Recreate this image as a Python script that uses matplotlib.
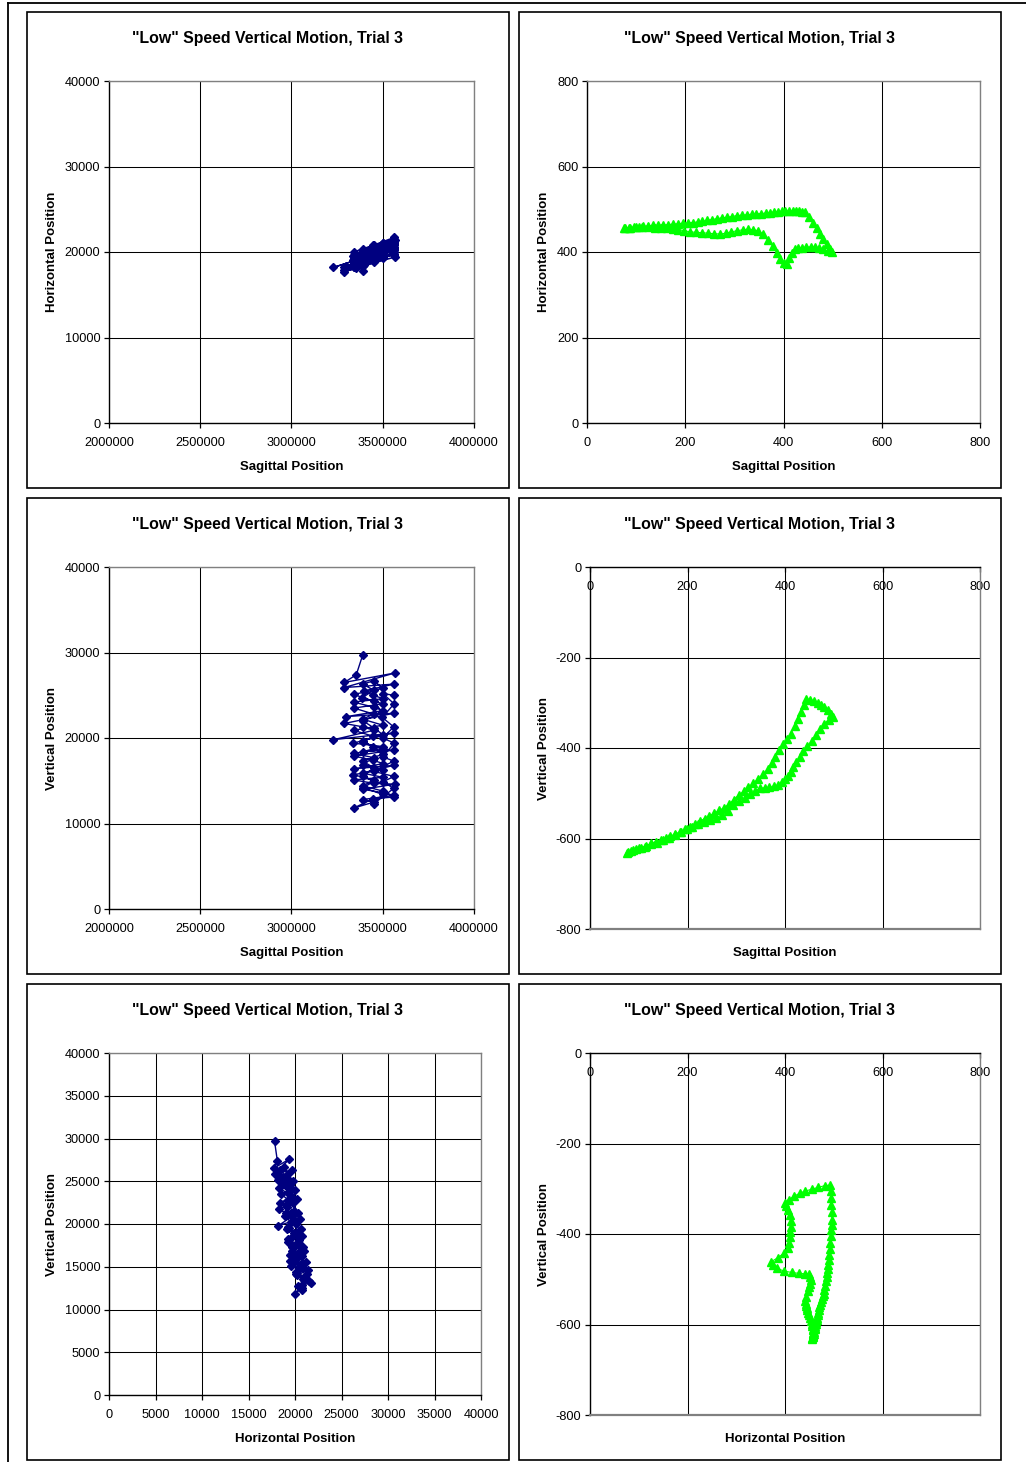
import matplotlib
matplotlib.use('Agg')
import matplotlib.pyplot as plt
from matplotlib.patches import Rectangle
from matplotlib.lines import Line2D
from matplotlib.ticker import FormatStrFormatter

plt.rcParams['font.family'] = ['Liberation Sans', 'DejaVu Sans']

# raw marker data (blue, diamonds)
blue_sag = [3390000, 3355000, 3290000, 3565000, 3288000, 3560000, 3395000, 3448000, 3502000, 3340000,
            3452000, 3500000, 3300000, 3562000, 3290000, 3392000, 3450000, 3230000, 3560000, 3338000,
            3500000, 3390000, 3563000, 3340000, 3447000, 3503000, 3342000, 3560000, 3390000, 3500000,
            3340000, 3450000, 3565000, 3393000, 3500000, 3560000, 3390000, 3450000, 3340000, 3448000,
            3562000, 3500000, 3390000, 3452000, 3338000, 3500000, 3392000, 3450000, 3340000, 3502000,
            3390000, 3448000, 3340000, 3500000, 3390000, 3450000, 3342000, 3500000, 3388000, 3450000,
            3390000, 3452000, 3500000, 3340000, 3450000, 3498000, 3392000, 3450000, 3500000, 3390000,
            3448000, 3500000, 3390000, 3452000, 3390000, 3450000, 3392000, 3500000, 3450000, 3560000,
            3502000, 3562000, 3450000, 3560000, 3500000, 3563000, 3500000, 3560000, 3498000, 3562000,
            3500000, 3560000]
blue_hor = [17800, 18100, 17700, 19400, 17900, 19700, 18500, 19100, 19500, 18300,
            19200, 19700, 18400, 20200, 18300, 19000, 19700, 18200, 20500, 19100,
            20100, 19600, 20800, 19200, 20000, 20600, 19500, 21000, 19800, 20800,
            19600, 20400, 21400, 20200, 20900, 21500, 20300, 20700, 20000, 20800,
            21700, 21000, 20100, 20500, 19500, 20700, 19700, 20100, 19300, 20300,
            19400, 19600, 18900, 19900, 19000, 19300, 18500, 19600, 18600, 19000,
            18400, 18800, 19300, 18200, 19100, 19700, 19100, 19500, 20000, 19300,
            19900, 20400, 19700, 20200, 19900, 20500, 20100, 21000, 20800, 21300,
            20900, 21200, 20300, 20900, 20400, 20600, 20100, 20300, 19800, 20000,
            19400, 19800]
blue_ver = [29700, 27400, 26500, 27600, 25900, 26300, 25500, 25000, 24600, 24200,
            23600, 23200, 22500, 22900, 21700, 21300, 20900, 19800, 20600, 19400,
            19000, 18400, 18600, 17900, 17400, 17000, 16400, 16800, 15900, 15400,
            15100, 14700, 14600, 14000, 13600, 13300, 12800, 12500, 11800, 12900,
            13100, 13800, 14400, 15100, 15700, 16300, 16900, 17700, 18200, 18700,
            19500, 20200, 20900, 21500, 22200, 22800, 23500, 24000, 24700, 25600,
            26300, 26700, 25800, 25100, 24300, 23000, 22000, 21200, 20400, 19700,
            18900, 18100, 17300, 16500, 15600, 14900, 14200, 13400, 12300, 14100,
            14900, 15500, 16100, 17300, 17800, 19400, 20000, 21300, 22400, 24000,
            25200, 25000]

# processed data (green, triangles)
green_sag = [75, 85, 95, 105, 115, 125, 135, 145, 155, 165, 175, 185, 195, 205, 215, 225, 235, 245, 255, 265,
             275, 285, 295, 305, 315, 325, 335, 345, 355, 365, 373, 380, 388, 396, 404, 412, 420, 426, 432, 438,
             444, 452, 460, 468, 474, 481, 488, 494, 499,
             490, 480, 472, 464, 456, 446, 437, 430, 423, 417, 412, 407, 400, 393, 386, 378, 368, 358, 348, 338,
             328, 318, 306, 294, 283, 270, 258, 246, 234, 222, 210, 198, 186, 175, 163, 150, 138, 125, 112, 100,
             88, 78]
green_hor = [456, 457, 458, 459, 460, 461, 462, 462, 463, 464, 465, 466, 467, 468, 469, 470, 472, 474, 476, 478,
             480, 481, 483, 485, 486, 487, 488, 489, 490, 491, 492, 493, 494, 495, 496, 496, 496, 495, 495, 494,
             493, 482, 468, 455, 442, 430, 418, 408, 399,
             402, 406, 410, 412, 412, 411, 410, 409, 406, 398, 386, 372, 375, 384, 398, 414, 428, 442, 450, 452,
             453, 452, 450, 447, 444, 442, 443, 444, 445, 446, 447, 450, 452, 454, 455, 456, 457, 458, 458, 458,
             457, 456]
green_ver = [-632, -628, -624, -620, -616, -611, -607, -603, -599, -595, -590, -585, -580, -575, -569, -562, -556,
             -550, -544, -538, -532, -524, -514, -504, -496, -487, -478, -468, -458, -446, -434, -420, -405, -392,
             -380, -368, -352, -336, -320, -305, -292,
             -293, -297, -301, -305, -310, -317, -324, -331,
             -338, -346, -358, -372, -384, -396, -406, -420, -432, -442, -452, -461, -468, -476, -482, -485, -487,
             -488, -489, -495, -502, -510, -518, -527, -540, -548, -554, -559, -563, -568, -574, -580, -586, -592,
             -598, -604, -609, -613, -618, -622, -626, -630]

title = '"Low" Speed Vertical Motion, Trial 3'
sag_ticks = [2000000, 2500000, 3000000, 3500000, 4000000]
pos_ticks = [0, 10000, 20000, 30000, 40000]
fine_ticks = [0, 5000, 10000, 15000, 20000, 25000, 30000, 35000, 40000]
g_ticks = [0, 200, 400, 600, 800]
g_neg_ticks = [-800, -600, -400, -200, 0]

W, H = 1026, 1462
fig = plt.figure(figsize=(W / 100, H / 100), dpi=100)

# page frame
fig.add_artist(Line2D([8 / W, 1], [1 - 3 / H, 1 - 3 / H], color='black', lw=1.3))
fig.add_artist(Line2D([8 / W, 8 / W], [0, 1 - 3 / H], color='black', lw=1.3))


def panel(box, area, xs, ys, blue, xlim, xticks, ylim, yticks, xlabel, ylabel, xl_y, yl_x, flip=False):
    bx0, by0, bx1, by1 = box
    fig.add_artist(Rectangle((bx0 / W, 1 - by1 / H), (bx1 - bx0) / W, (by1 - by0) / H,
                             fill=False, ec='black', lw=1.2))
    fig.text((bx0 + bx1) / 2 / W, 1 - (by0 + 27) / H, title, ha='center', va='center',
             fontsize=11.4, fontweight='bold')
    x0, y0, x1, y1 = area
    ax = fig.add_axes([x0 / W, 1 - y1 / H, (x1 - x0) / W, (y1 - y0) / H])
    if blue:
        ax.plot(xs, ys, '-D', color='#000080', lw=1, ms=3.9, mec='#000080', zorder=3)
    else:
        ax.plot(xs, ys, '-^', color='#00FF00', lw=0.8, ms=5.4, mec='#00FF00', zorder=3)
    ax.set_xlim(xlim)
    ax.set_ylim(ylim)
    ax.set_xticks(xticks)
    ax.set_yticks(yticks)
    ax.xaxis.set_major_formatter(FormatStrFormatter('%d'))
    ax.yaxis.set_major_formatter(FormatStrFormatter('%d'))
    ax.grid(True, color='black', lw=0.75)
    ax.set_axisbelow(True)
    ax.tick_params(axis='both', direction='out', length=3.5, width=0.9, labelsize=9.2)
    ax.tick_params(axis='y', pad=2.8)
    ax.tick_params(axis='x', pad=6.5)
    for s in ['left', 'bottom']:
        ax.spines[s].set_linewidth(1.0)
        ax.spines[s].set_color('black')
    for s in ['top', 'right']:
        ax.spines[s].set_linewidth(1.0)
        ax.spines[s].set_color('#808080')
    if flip:
        ax.spines['bottom'].set_position(('data', 0))
        ax.spines['top'].set_visible(False)
        # plot-area border along the lower edge
        ax.axhline(ylim[0], color='#808080', lw=1.6, clip_on=False, zorder=2.6)
    ax.set_xlabel(xlabel, fontsize=9.5, fontweight='bold')
    ax.set_ylabel(ylabel, fontsize=9.5, fontweight='bold')
    ax.xaxis.set_label_coords(0.5, xl_y)
    ax.yaxis.set_label_coords(yl_x, 0.5)
    return ax


panel((27, 12, 509, 488), (109, 81, 474, 423), blue_sag, blue_hor, True,
      (2000000, 4000000), sag_ticks, (0, 40000), pos_ticks,
      'Sagittal Position', 'Horizontal Position', -0.11, -0.139)
panel((519, 12, 1001, 488), (587, 81, 980, 423), green_sag, green_hor, False,
      (0, 800), g_ticks, (0, 800), g_ticks,
      'Sagittal Position', 'Horizontal Position', -0.11, -0.094)
panel((27, 498, 509, 974), (109, 567, 474, 909), blue_sag, blue_ver, True,
      (2000000, 4000000), sag_ticks, (0, 40000), pos_ticks,
      'Sagittal Position', 'Vertical Position', -0.11, -0.139)
panel((519, 498, 1001, 974), (590, 567, 980, 929), green_sag, green_ver, False,
      (0, 800), g_ticks, (-800, 0), g_neg_ticks,
      'Sagittal Position', 'Vertical Position', -0.049, -0.102, flip=True)
panel((27, 984, 509, 1460), (109, 1053, 481, 1395), blue_hor, blue_ver, True,
      (0, 40000), fine_ticks, (0, 40000), fine_ticks,
      'Horizontal Position', 'Vertical Position', -0.11, -0.136)
panel((519, 984, 1001, 1460), (590, 1053, 980, 1415), green_hor, green_ver, False,
      (0, 800), g_ticks, (-800, 0), g_neg_ticks,
      'Horizontal Position', 'Vertical Position', -0.049, -0.102, flip=True)

fig.savefig('out.png', dpi=100)
